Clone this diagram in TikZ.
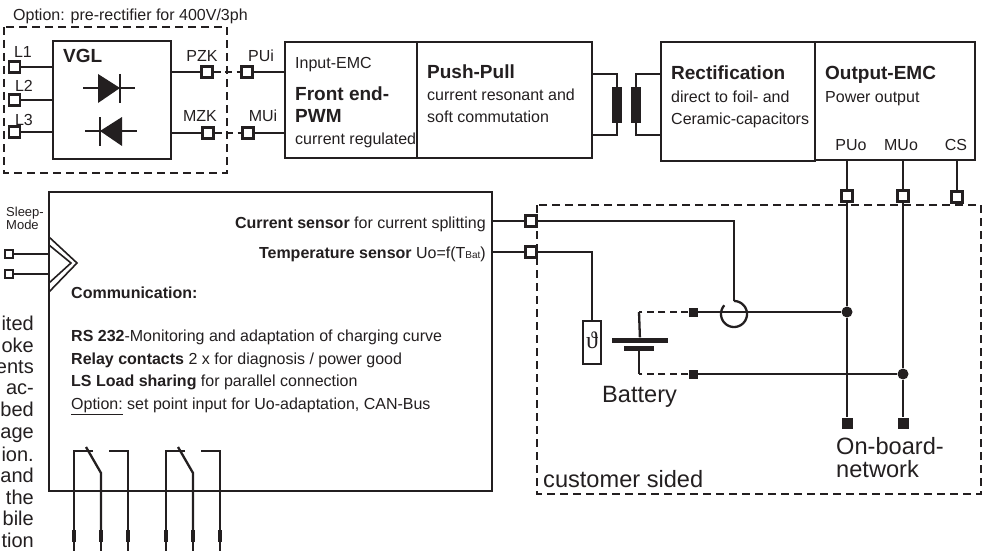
\documentclass[tikz,border=0pt]{standalone}
\usepackage{fontspec}
\setmainfont{Liberation Sans}
\newfontfamily\thetafont{Liberation Serif}
\definecolor{ink}{HTML}{231F20}
\tikzset{
	box/.style={draw=ink,line width=2.7pt,fill=white,inner sep=0pt,minimum width=#1},
	wire/.style={draw=ink,line width=2.3pt},
	fine/.style={draw=ink,line width=1.5pt},
	chev/.style={draw=ink,line width=1.6pt},
	dashbox/.style={draw=ink,line width=2.4pt,dash pattern=on 8pt off 5pt},
	dashwire/.style={draw=ink,line width=2pt,dash pattern=on 7pt off 4.5pt},
	term/.style={draw=ink,line width=2.4pt,fill=white,inner sep=0pt,minimum size=11pt},
	smallterm/.style={draw=ink,line width=2pt,fill=white,inner sep=0pt,minimum size=8pt},
	blk/.style={fill=ink,inner sep=0pt,minimum size=#1},
	lbl/.style={text=ink,inner sep=0pt,anchor=base west,font=\fontsize{16}{19}\selectfont},
	lblc/.style={lbl,anchor=base},
	head/.style={lbl,font=\fontsize{19}{22}\selectfont\bfseries},
	big/.style={lbl,font=\fontsize{23.6}{23}\selectfont,align=left},
}
\begin{document}
\begin{tikzpicture}[x=1pt,y=-1pt,line join=miter]
	\useasboundingbox (0,0) rectangle (985,551);

	% dashed groups
	\draw[dashbox] (4,27) rectangle (227,173);
	\draw[dashbox] (537,205) rectangle (981,494);

	% top row
	\node[box,minimum width=118pt,minimum height=118pt] (vgl) at (112,100) {};
	\node[box,minimum width=132pt,minimum height=116pt] (front) at (351,100) {};
	\node[box,minimum width=175pt,minimum height=116pt] (push) at (504.5,100) {};
	\node[box,minimum width=154pt,minimum height=119pt] (rect) at (738,101.5) {};
	\node[box,minimum width=160pt,minimum height=118pt] (out) at (895,101) {};
	\node[box,minimum width=443pt,minimum height=299pt] (ctrl) at (270.5,341.5) {};

	\node[term] (tLa) at (14.5,67) {};
	\node[term] (tLb) at (14.5,100) {};
	\node[term] (tLc) at (14.5,132) {};
	\node[term] (tPZK) at (207,72) {};
	\node[term] (tMZK) at (208,133) {};
	\node[term] (tPUi) at (247,72) {};
	\node[term] (tMUi) at (248,133) {};
	\draw[wire] (tLa) -- (tLa -| vgl.west);
	\draw[wire] (tLb) -- (tLb -| vgl.west);
	\draw[wire] (tLc) -- (tLc -| vgl.west);
	\draw[wire] (tPZK -| vgl.east) -- (tPZK);
	\draw[wire] (tMZK -| vgl.east) -- (tMZK);
	\draw[wire] (tPUi) -- (tPUi -| front.west);
	\draw[wire] (tMUi) -- (tMUi -| front.west);
	\draw[dashwire] (tPZK) -- (tPUi);
	\draw[dashwire] (tMZK) -- (tMUi);

	% diodes
	\draw[wire] (83,88) -- (135,88);
	\fill[ink] (98,74) -- (98,103) -- (120,88) -- cycle;
	\draw[wire] (120,74) -- (120,103);
	\draw[wire] (85,131) -- (137,131);
	\fill[ink] (122,117) -- (122,146) -- (100,131) -- cycle;
	\draw[wire] (100,117) -- (100,146);

	% transformer
	\node[blk=10pt,minimum height=36pt,minimum width=10pt] (coreL) at (617,105) {};
	\node[blk=10pt,minimum height=36pt,minimum width=10pt] (coreR) at (636,105) {};
	\draw[wire] (592,74) -| (coreL.north);
	\draw[wire] (592,135) -| (coreL.south);
	\draw[wire] (661,74) -| (coreR.north);
	\draw[wire] (661,135) -| (coreR.south);

	% outputs
	\node[term] (tPUo) at (847,196) {};
	\node[term] (tMUo) at (903,196) {};
	\node[term] (tCS) at (957,197) {};
	\draw[wire] (tPUo |- out.south) -- (tPUo);
	\draw[wire] (tMUo |- out.south) -- (tMUo);
	\draw[wire] (tCS |- out.south) -- (tCS);
	\node[blk=5pt,circle,minimum size=11pt] (jcA) at (847,312) {};
	\node[blk=5pt,circle,minimum size=11pt] (jcB) at (903,374) {};
	\node[blk=11pt] (netA) at (847,423) {};
	\node[blk=11pt] (netB) at (903,423) {};
	\draw[wire] (tPUo) -- (jcA) -- (netA);
	\draw[wire] (tMUo) -- (jcB) -- (netB);

	% sensors and battery
	\node[term] (tCur) at (531,221) {};
	\node[term] (tTmp) at (531,252) {};
	\draw[wire] (tCur -| ctrl.east) -- (tCur);
	\draw[wire] (tTmp -| ctrl.east) -- (tTmp);
	\node[draw=ink,line width=2pt,fill=white,inner sep=0pt,minimum width=18pt,minimum height=43pt] (probe) at (592,342.5) {};
	\node[text=ink,inner sep=0pt,font=\fontsize{24}{24}\selectfont\thetafont] (theta) at (592,340) {\symbol{"03D1}};
	\draw[wire] (tTmp) -| (probe.north);
	\node[blk=9pt] (batP) at (693,312) {};
	\node[blk=9pt] (batM) at (693,374) {};
	\coordinate (ringTop) at (734,301);
	\coordinate (cornP) at (639,312);
	\coordinate (cornM) at (639,374);
	\node[fill=ink,inner sep=0pt,minimum width=56pt,minimum height=5pt] (plateP) at (640,340) {};
	\node[fill=ink,inner sep=0pt,minimum width=30pt,minimum height=5pt] (plateM) at (639,348.5) {};
	\draw[wire] (tCur) -| (ringTop);
	\draw[wire] plot[domain=-90:222,samples=60,smooth,variable=\x] ({734+13*cos(\x)},{314+13*sin(\x)});
	\draw[fine] (batP) -- (jcA);
	\draw[fine] (batM) -- (jcB);
	\draw[dashwire] (batP) -- (cornP);
	\draw[dashwire] (batM) -- (cornM);
	\draw[wire] (cornP) -- (plateP);
	\draw[wire] (plateM) -- (cornM);

	% sleep input
	\node[smallterm] (tSlA) at (9,254) {};
	\node[smallterm] (tSlB) at (9,274) {};
	\draw[wire] (tSlA) -- (tSlA -| ctrl.west);
	\draw[wire] (tSlB) -- (tSlB -| ctrl.west);
	\draw[chev] (49,237) -- (77,263) -- (49,292);
	\draw[chev] (49,245) -- (71,263) -- (49,283);

	% relays
	\foreach \nm/\x in {A/74,B/166}{
		\node[blk=4pt,minimum height=12pt] (rel\nm a) at (\x,536) {};
		\node[blk=4pt,minimum height=12pt] (rel\nm b) at (\x+27,536) {};
		\node[blk=4pt,minimum height=12pt] (rel\nm c) at (\x+54,536) {};
		\draw[wire] (\x+19,451) -- (\x,451) -- (rel\nm a);
		\draw[wire] (\x+12,447) -- (\x+27,473) -- (rel\nm b);
		\draw[wire] (\x+35,451) -- (\x+54,451) -- (rel\nm c);
		\draw[wire] (rel\nm a) -- (\x,551);
		\draw[wire] (rel\nm b) -- (\x+27,551);
		\draw[wire] (rel\nm c) -- (\x+54,551);
	}

	% labels
	\node[lbl] (optTxt) at (13,21) {Option: pre-rectifier for 400V/3ph};
	\node[lblc] (lbLa) at (23,58) {L1};
	\node[lblc] (lbLb) at (24,92) {L2};
	\node[lblc] (lbLc) at (24,125) {L3};
	\node[head] (lbVGL) at (63,63) {VGL};
	\node[lblc] (lbPZK) at (202,62) {PZK};
	\node[lblc] (lbMZK) at (200,121) {MZK};
	\node[lblc] (lbPUi) at (261,62) {PUi};
	\node[lblc] (lbMUi) at (263,121) {MUi};
	\node[lbl] (inEMC) at (295,69) {Input-EMC};
	\node[head] (frontA) at (295,100) {Front end-};
	\node[head] (frontB) at (295,122) {PWM};
	\node[lbl] (frontC) at (295,144) {current regulated};
	\node[head] (pushA) at (427,78) {Push-Pull};
	\node[lbl] (pushB) at (427,100) {current resonant and};
	\node[lbl] (pushC) at (427,122) {soft commutation};
	\node[head] (rectA) at (671,80) {Rectification};
	\node[lbl] (rectB) at (671,102) {direct to foil- and};
	\node[lbl] (rectC) at (671,124) {Ceramic-capacitors};
	\node[head] (outA) at (825,80) {Output-EMC};
	\node[lbl] (outB) at (825,102) {Power output};
	\node[lblc] (lbPUo) at (851,150) {PUo};
	\node[lblc] (lbMUo) at (901,150) {MUo};
	\node[lblc] (lbCS) at (956,150) {CS};
	\node[lbl,anchor=base east] (curTxt) at (486,228) {\textbf{Current sensor} for current splitting};
	\node[lbl,anchor=base east] (tmpTxt) at (486,258) {\textbf{Temperature sensor} Uo=f(T{\fontsize{10}{10}\selectfont Bat})};
	\node[lbl] (comA) at (71,298) {\textbf{Communication:}};
	\node[lbl] (comB) at (71,341) {\textbf{RS 232}-Monitoring and adaptation of charging curve};
	\node[lbl] (comC) at (71,364) {\textbf{Relay contacts} 2 x for diagnosis / power good};
	\node[lbl] (comD) at (71,386) {\textbf{LS Load sharing} for parallel connection};
	\node[lbl] (comE) at (71,409) {\underline{Option:} set point input for Uo-adaptation, CAN-Bus};
	\node[lbl,font=\fontsize{13}{12}\selectfont,align=left] (sleep) at (6,229.5) {Sleep-\\Mode};
	\node[big] (lbBat) at (602,402) {Battery};
	\node[big] (lbCust) at (543,487) {customer sided};
	\node[big] (lbNetA) at (836,454) {On-board-};
	\node[big] (lbNetB) at (836,477) {network};
	\foreach \w/\y in {ited/330,oke/352,ents/373,ac-/394,bed/416,age/438,ion./461,and/482,the/504,bile/525,tion/547}{
		\node[lbl,anchor=base east,font=\fontsize{20}{22}\selectfont] at (34,\y) {\w};
	}
\end{tikzpicture}
\end{document}
